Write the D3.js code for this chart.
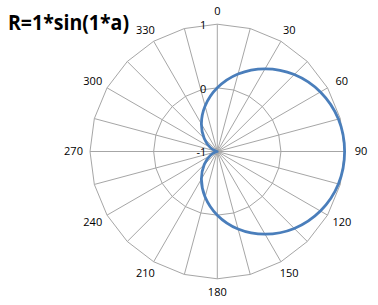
<!DOCTYPE html>
<html>
<head>
<meta charset="utf-8">
<script src="https://cdn.jsdelivr.net/npm/d3@7"></script>
<style>
  body { margin: 0; background: #fff; }
  svg { display: block; }
</style>
</head>
<body>
<svg id="chart" width="378" height="305"></svg>
<script>
// categories (degrees) - every 15, only every 30 labelled
var angles = [0, 15, 30, 45, 60, 75, 90, 105, 120, 135, 150, 165,
              180, 195, 210, 225, 240, 255, 270, 285, 300, 315, 330, 345];
var angleLabels = ["0", "", "30", "", "60", "", "90", "", "120", "", "150", "",
                   "180", "", "210", "", "240", "", "270", "", "300", "", "330", ""];
// R values
var rValues = [0, 0.26, 0.5, 0.71, 0.87, 0.97, 1, 0.97, 0.87, 0.71, 0.5, 0.26,
               0, -0.26, -0.5, -0.71, -0.87, -0.97, -1, -0.97, -0.87, -0.71, -0.5, -0.26];
var radialTicks = [-1, 0, 1];

var svg = d3.select("#chart"),
    cx = 217.3,
    cy = 151.5,
    R = 127.3;

var rScale = d3.scaleLinear().domain([-1, 1]).range([0, R]);
var aScale = d3.scaleLinear().domain([0, 360]).range([0, 2 * Math.PI]);

var g = svg.append("g").attr("transform", "translate(" + cx + "," + cy + ")");

function pt(a, r) {
    var t = aScale(a);
    return [r * Math.sin(t), -r * Math.cos(t)];
}

// rings (polygons like excel radar)
radialTicks.forEach(function(v) {
    if (rScale(v) <= 0) return;
    var pts = angles.map(function(a) { return pt(a, rScale(v)); });
    g.append("polygon")
        .attr("points", pts.map(function(p) { return p.join(","); }).join(" "))
        .attr("fill", "none")
        .attr("stroke", "#a6a6a6")
        .attr("stroke-width", 1);
});

// spokes
angles.forEach(function(a) {
    var p = pt(a, R);
    g.append("line")
        .attr("x1", 0).attr("y1", 0)
        .attr("x2", p[0]).attr("y2", p[1])
        .attr("stroke", "#a6a6a6")
        .attr("stroke-width", 1);
});

// angle labels
angles.forEach(function(a, i) {
    if (!angleLabels[i]) return;
    var p = pt(a, R + 13);
    var t = aScale(a);
    var dx = Math.sin(t) * 3.5;
    g.append("text")
        .attr("x", p[0] + dx)
        .attr("y", p[1])
        .attr("dy", "0.35em")
        .attr("text-anchor", "middle")
        .attr("font-family", "Open Sans, sans-serif")
        .attr("font-size", 11)
        .attr("fill", "#000")
        .text(angleLabels[i]);
});

// radial tick labels
radialTicks.forEach(function(v) {
    g.append("text")
        .attr("x", -11)
        .attr("y", -rScale(v) + 1)
        .attr("dy", "0.35em")
        .attr("text-anchor", "end")
        .attr("font-family", "Open Sans, sans-serif")
        .attr("font-size", 11)
        .attr("fill", "#000")
        .text(v);
});

// the series
var line = d3.lineRadial()
    .angle(function(d, i) { return aScale(angles[i]); })
    .radius(function(d) { return rScale(d); })
    .curve(d3.curveCatmullRomClosed);

g.append("path")
    .datum(rValues)
    .attr("d", line)
    .attr("fill", "none")
    .attr("stroke", "#4a7ebb")
    .attr("stroke-width", 2.8);

// title
svg.append("text")
    .attr("x", 8)
    .attr("y", 30)
    .attr("font-family", "Open Sans, sans-serif")
    .attr("font-weight", "bold")
    .attr("font-size", 21)
    .attr("textLength", 121)
    .attr("lengthAdjust", "spacingAndGlyphs")
    .attr("fill", "#000")
    .text("R=1*sin(1*a)");
</script>
</body>
</html>
